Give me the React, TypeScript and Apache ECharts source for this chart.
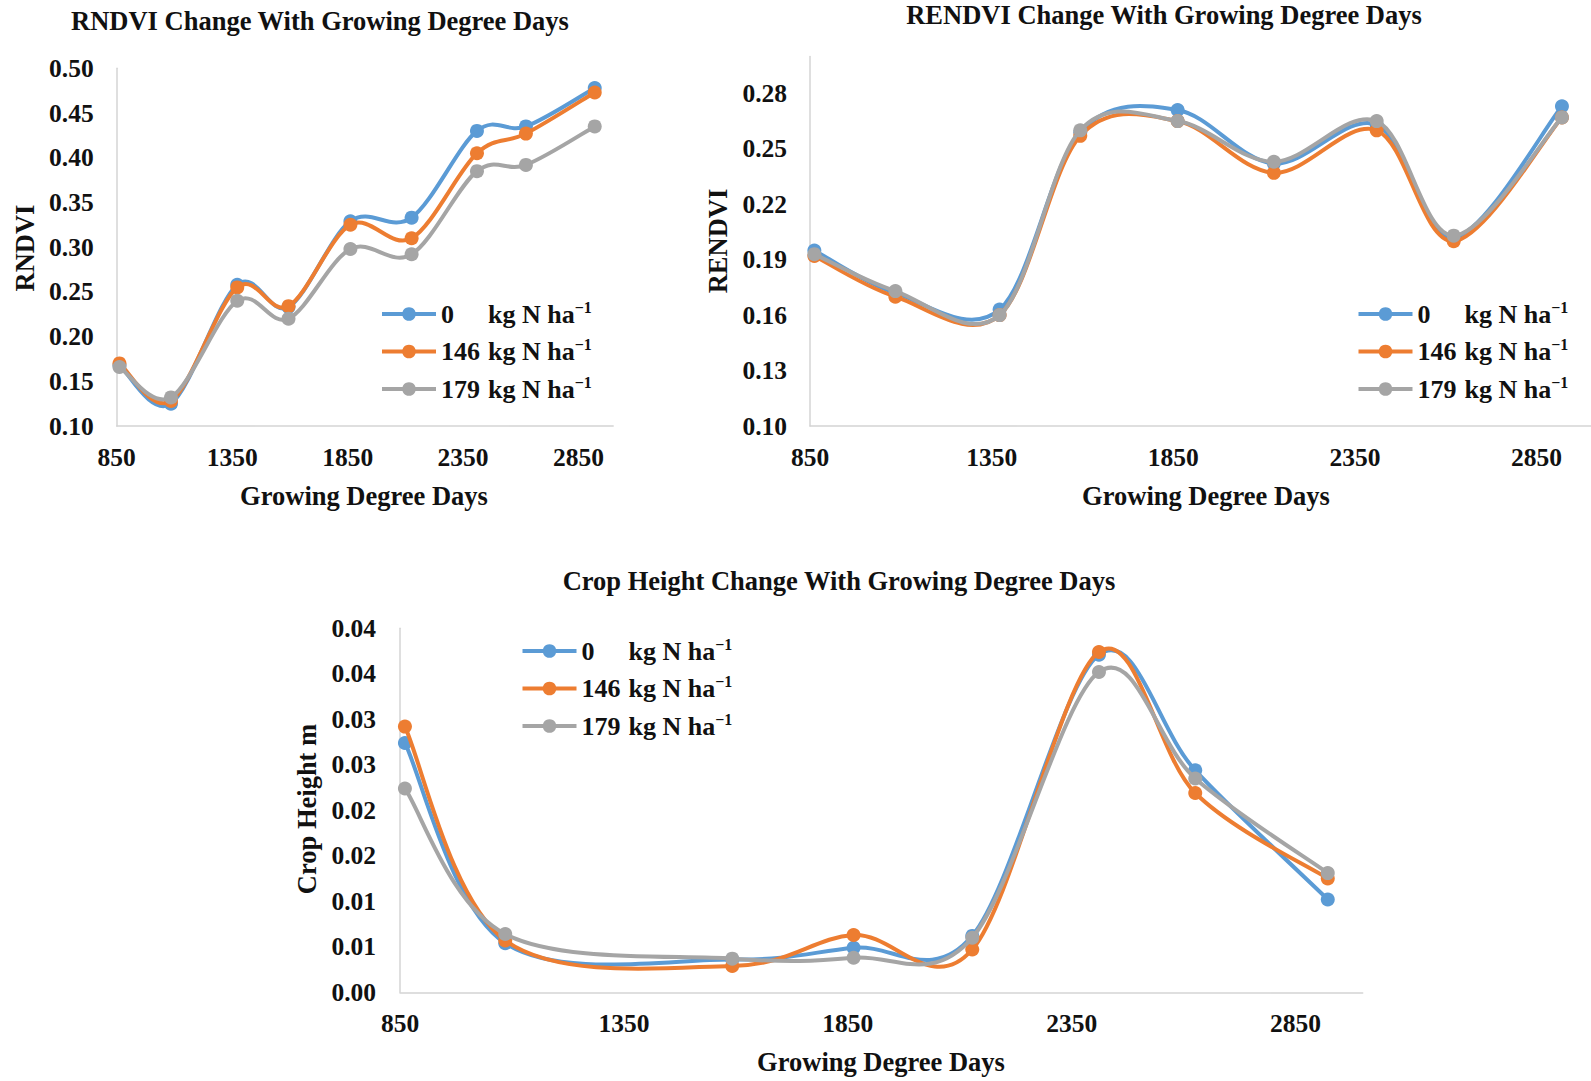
import React, { useEffect, useRef } from 'react';
import * as echarts from 'echarts';

const doses = ['0', '146', '179'];
const seriesNames = doses.map((d) => `${d} kg N ha-1`);
const colors = ['#5B9BD5', '#ED7D31', '#A5A5A5'];

// RNDVI / RENDVI sampling (growing degree days)
const gdd = [862, 1085, 1372, 1594, 1862, 2127, 2410, 2622, 2920];
const rndvi0 = [0.168, 0.125, 0.258, 0.233, 0.329, 0.333, 0.430, 0.435, 0.478];
const rndvi146 = [0.170, 0.128, 0.255, 0.234, 0.325, 0.310, 0.405, 0.427, 0.473];
const rndvi179 = [0.166, 0.132, 0.240, 0.220, 0.298, 0.292, 0.385, 0.392, 0.435];

const rendvi0 = [0.195, 0.172, 0.163, 0.259, 0.271, 0.242, 0.263, 0.202, 0.273];
const rendvi146 = [0.192, 0.170, 0.160, 0.257, 0.265, 0.237, 0.260, 0.200, 0.267];
const rendvi179 = [0.193, 0.173, 0.160, 0.260, 0.265, 0.243, 0.265, 0.203, 0.267];

// Crop height sampling
const cropGdd = [861, 1085, 1592, 1863, 2128, 2411, 2626, 2922];
const crop0 = [0.0274, 0.0054, 0.0036, 0.0049, 0.0062, 0.0371, 0.0244, 0.0102];
const crop146 = [0.0292, 0.0057, 0.0029, 0.0063, 0.0047, 0.0374, 0.0219, 0.0125];
const crop179 = [0.0224, 0.0064, 0.0037, 0.0038, 0.0060, 0.0352, 0.0235, 0.0131];

// Tick labels
const xTickLabels = [850, 1350, 1850, 2350, 2850];
const rendviTickValues = [0.10, 0.13, 0.16, 0.19, 0.22, 0.25, 0.28];
const cropTickLabels = ['0.00', '0.01', '0.01', '0.02', '0.02', '0.03', '0.03', '0.04', '0.04'];

const titles = [
  'RNDVI Change With Growing Degree Days',
  'RENDVI Change With Growing Degree Days',
  'Crop Height Change With Growing Degree Days',
];
const xNames = ['Growing Degree Days', 'Growing Degree Days', 'Growing Degree Days'];
const yNames = ['RNDVI', 'RENDVI', 'Crop Height m'];

const FONT = '"Liberation Serif", "Times New Roman", serif';
const INK = '#111111';
const AXIS = '#D4D4D4';
const LW = 4;
const SYM = 14;

const textBase = { fontFamily: FONT, fontWeight: 'bold' as const, color: INK };

function legendCfg(left: number, top: number) {
  return {
    orient: 'vertical',
    left,
    top,
    padding: 0,
    itemWidth: 54,
    itemHeight: 17,
    itemGap: 9.5,
    selectedMode: false,
    data: seriesNames,
    lineStyle: { width: LW, opacity: 1 },
    formatter: (name: string) => {
      const i = seriesNames.indexOf(name);
      return `{n|${doses[i]}}{u|kg N ha}{s|\u22121}`;
    },
    textStyle: {
      ...textBase,
      fontSize: 26,
      rich: {
        n: { ...textBase, fontSize: 26, lineHeight: 30, width: 47 },
        u: { ...textBase, fontSize: 26, lineHeight: 30 },
        s: { ...textBase, fontSize: 16, lineHeight: 20, verticalAlign: 'top' },
      },
    },
  };
}

function xAxisCfg(gridIndex: number) {
  return {
    type: 'value',
    gridIndex,
    min: 850,
    max: 3000,
    axisLine: { show: true, onZero: false, lineStyle: { color: AXIS, width: 1.5 } },
    axisTick: { show: false },
    splitLine: { show: false },
    axisLabel: {
      ...textBase,
      fontSize: 25.5,
      margin: 18,
      customValues: xTickLabels,
      formatter: (v: number) => String(v),
    },
  };
}

function yAxisBase(gridIndex: number) {
  return {
    type: 'value',
    gridIndex,
    axisLine: { show: true, lineStyle: { color: AXIS, width: 1.5 } },
    axisTick: { show: false },
    splitLine: { show: false },
  };
}

// Markers + legend entry (the line itself is drawn by the spline series below)
function markerSeries(name: string, gi: number, xs: number[], ys: number[], color: string, k: number) {
  return {
    type: 'line',
    name,
    xAxisIndex: gi,
    yAxisIndex: gi,
    data: xs.map((x, i) => [x, ys[i]]),
    symbol: 'circle',
    symbolSize: SYM,
    showSymbol: true,
    lineStyle: { width: LW, color, opacity: 0 },
    itemStyle: { color },
    z: 3 + 2 * k,
    silent: true,
  };
}

// Excel-like smoothed line (Catmull-Rom bezier in screen space), drawn from the data via the axes
function splineSeries(gi: number, xs: number[], ys: number[], color: string, k: number) {
  const data = xs.map((x, i) => [x, ys[i]]);
  return {
    type: 'custom',
    name: `spline-${gi}-${k}`,
    xAxisIndex: gi,
    yAxisIndex: gi,
    data,
    z: 2 + 2 * k,
    silent: true,
    clip: false,
    renderItem: (params: any, api: any) => {
      if (params.dataIndex !== 0) return null;
      const p = data.map((d) => api.coord(d));
      const n = p.length;
      let d = `M${p[0][0]},${p[0][1]}`;
      for (let i = 0; i < n - 1; i++) {
        const p0 = p[i > 0 ? i - 1 : i];
        const p1 = p[i];
        const p2 = p[i + 1];
        const p3 = p[i + 2 < n ? i + 2 : i + 1];
        const c1x = p1[0] + (p2[0] - p0[0]) / 6;
        const c1y = p1[1] + (p2[1] - p0[1]) / 6;
        const c2x = p2[0] - (p3[0] - p1[0]) / 6;
        const c2y = p2[1] - (p3[1] - p1[1]) / 6;
        d += ` C${c1x},${c1y} ${c2x},${c2y} ${p2[0]},${p2[1]}`;
      }
      return {
        type: 'path',
        shape: { pathData: d },
        style: { fill: 'none', stroke: color, lineWidth: LW, lineJoin: 'round', lineCap: 'round' },
      };
    },
  };
}

function gText(text: string, x: number, y: number, rotate = false) {
  return {
    type: 'text',
    x,
    y,
    rotation: rotate ? Math.PI / 2 : 0,
    style: {
      text,
      fontFamily: FONT,
      fontWeight: 'bold',
      fontSize: 26.5,
      fill: INK,
      align: 'center',
      verticalAlign: 'middle',
    },
  };
}

export default function App() {
  const ref = useRef<HTMLDivElement>(null);

  useEffect(() => {
    if (!ref.current) return;
    const chart = echarts.init(ref.current, undefined, { renderer: 'svg' });

    const sets = [
      { xs: gdd, ys: [rndvi0, rndvi146, rndvi179] },
      { xs: gdd, ys: [rendvi0, rendvi146, rendvi179] },
      { xs: cropGdd, ys: [crop0, crop146, crop179] },
    ];
    const series: any[] = [];
    sets.forEach((s, gi) => {
      s.ys.forEach((ys, k) => {
        series.push(markerSeries(seriesNames[k], gi, s.xs, ys, colors[k], k));
        series.push(splineSeries(gi, s.xs, ys, colors[k], k));
      });
    });

    const yLabel = { ...textBase, fontSize: 25.5 };

    chart.setOption({
      animation: false,
      backgroundColor: '#ffffff',
      grid: [
        { left: 116.7, top: 68.3, width: 496.5, height: 357.7, containLabel: false },
        { left: 810, top: 56.4, width: 793, height: 369.6, containLabel: false },
        { left: 400, top: 628.3, width: 962.7, height: 364, containLabel: false },
      ],
      xAxis: [xAxisCfg(0), xAxisCfg(1), xAxisCfg(2)],
      yAxis: [
        {
          ...yAxisBase(0),
          min: 0.1,
          max: 0.5,
          interval: 0.05,
          axisLabel: { ...yLabel, margin: 23, formatter: (v: number) => v.toFixed(2) },
        },
        {
          ...yAxisBase(1),
          min: 0.1,
          max: 0.3,
          interval: 0.01,
          axisLabel: {
            ...yLabel,
            margin: 23,
            customValues: rendviTickValues,
            formatter: (v: number) => v.toFixed(2),
          },
        },
        {
          ...yAxisBase(2),
          min: 0,
          max: 0.04,
          interval: 0.005,
          axisLabel: {
            ...yLabel,
            margin: 24,
            formatter: (v: number) => cropTickLabels[Math.round(v / 0.005)] ?? '',
          },
        },
      ],
      legend: [legendCfg(380, 299), legendCfg(1356.5, 299), legendCfg(520.5, 636)],
      graphic: [
        gText(titles[0], 320, 21),
        gText(titles[1], 1164, 15),
        gText(titles[2], 839, 581),
        gText(xNames[0], 364, 496),
        gText(xNames[1], 1206, 496),
        gText(xNames[2], 881, 1062),
        gText(yNames[0], 25, 248, true),
        gText(yNames[1], 718, 241, true),
        gText(yNames[2], 307, 809, true),
      ],
      series,
    });

    return () => chart.dispose();
  }, []);

  return (
    <div
      ref={ref}
      style={{ position: 'fixed', left: 0, top: 0, width: 1591, height: 1081, background: '#fff' }}
    />
  );
}
